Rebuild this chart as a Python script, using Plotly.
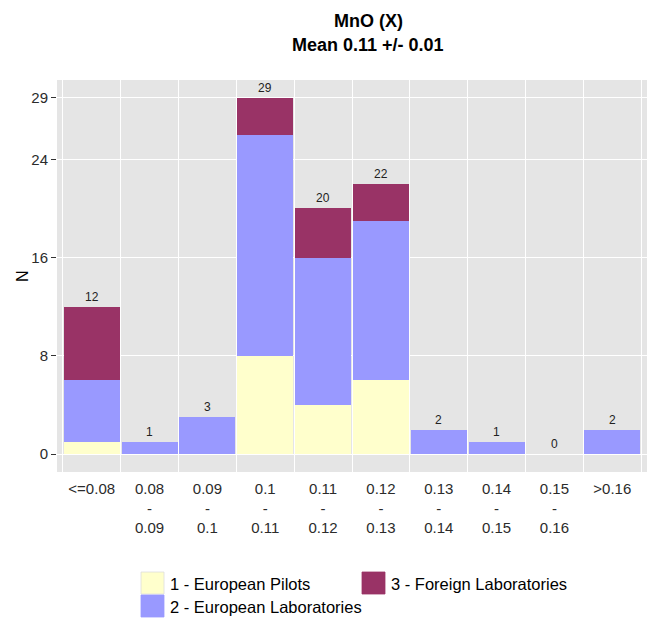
import plotly.graph_objects as go

categories = ["<=0.08", "0.08<br>-<br>0.09", "0.09<br>-<br>0.1", "0.1<br>-<br>0.11",
              "0.11<br>-<br>0.12", "0.12<br>-<br>0.13", "0.13<br>-<br>0.14",
              "0.14<br>-<br>0.15", "0.15<br>-<br>0.16", ">0.16"]
pilots = [1, 0, 0, 8, 4, 6, 0, 0, 0, 0]
labs = [5, 1, 3, 18, 12, 13, 2, 1, 0, 2]
foreign = [6, 0, 0, 3, 4, 3, 0, 0, 0, 0]
series_names = ["1 - European Pilots", "2 - European Laboratories", "3 - Foreign Laboratories"]
series_colors = ["#FFFFCC", "#9999FF", "#993366"]
y_ticks = [0, 8, 16, 24, 29]
title_lines = ["MnO (X)", "Mean 0.11 +/- 0.01"]

# page body has an 8px margin; lay out in window pixels and convert
OFF = 8
W, H = 655 - OFF, 621 - OFF
PANEL_L, PANEL_R, PANEL_T, PANEL_B = 57, 647, 80, 472   # window pixels
L, T = PANEL_L - OFF, PANEL_T - OFF
R = W - (PANEL_R - OFF)
B = H - (PANEL_B - OFF)
PW, PH = PANEL_R - PANEL_L, PANEL_B - PANEL_T


def px(xwin):
    return (xwin - PANEL_L) / PW


def py(ywin):
    return (PANEL_B - ywin) / PH


xs = list(range(len(categories)))
totals = [a + b + c for a, b, c in zip(pilots, labs, foreign)]

fig = go.Figure()
for name, vals, col in zip(series_names, [pilots, labs, foreign], series_colors):
    fig.add_trace(go.Bar(x=xs, y=vals, name=name, marker=dict(color=col, line=dict(width=0)),
                         showlegend=False))

fig.update_layout(
    width=W, height=H,
    margin=dict(l=L, r=R, t=T, b=B),
    paper_bgcolor="white",
    plot_bgcolor="#E5E5E5",
    barmode="stack",
    bargap=0.03,
    font=dict(family="Liberation Sans, Arial", color="#333333"),
)

fig.update_xaxes(
    range=[-0.6, 9.6],
    tickmode="array", tickvals=xs, ticktext=categories,
    showgrid=False, zeroline=False,
    ticks="outside", ticklen=3, tickcolor="rgba(0,0,0,0)",
    tickfont=dict(size=15, color="#2b2b2b"),
    minor=dict(tickmode="array", tickvals=[i - 0.5 for i in range(len(categories) + 1)],
               showgrid=True, gridcolor="white", gridwidth=1.3, ticks=""),
)

fig.update_yaxes(
    range=[-1.45, 30.45],
    tickmode="array", tickvals=y_ticks, ticktext=[str(v) for v in y_ticks],
    showgrid=True, gridcolor="white", gridwidth=1.3, zeroline=False,
    ticks="outside", ticklen=5, tickcolor="#333333", tickwidth=1,
    tickfont=dict(size=15, color="#2b2b2b"),
)

annotations = [
    dict(text="<b>%s</b>" % title_lines[0], x=px(368), y=py(21), xref="paper", yref="paper",
         showarrow=False, xanchor="center", yanchor="middle",
         font=dict(size=18, color="black")),
    dict(text="<b>%s</b>" % title_lines[1], x=px(368), y=py(45), xref="paper", yref="paper",
         showarrow=False, xanchor="center", yanchor="middle",
         font=dict(size=18, color="black")),
    dict(text="N", x=px(22), y=0.5, xref="paper", yref="paper", showarrow=False,
         textangle=-90, xanchor="center", yanchor="middle", font=dict(size=16, color="black")),
]

# total labels above each stacked bar
for xi, tot in zip(xs, totals):
    annotations.append(dict(text=str(tot), x=xi, y=tot, xref="x", yref="y", showarrow=False,
                            xanchor="center", yanchor="bottom", yshift=1,
                            font=dict(size=12, color="#222222")))

# manual legend (two columns: 1 & 2 in first column, 3 in second)
leg = [
    (series_names[0], series_colors[0], 141, 572),
    (series_names[1], series_colors[1], 141, 595),
    (series_names[2], series_colors[2], 362, 572),
]
shapes = []
for name, col, x0, y0 in leg:
    shapes.append(dict(type="rect", xref="paper", yref="paper",
                       x0=px(x0), x1=px(x0 + 23), y0=py(y0), y1=py(y0 + 22),
                       fillcolor=col, line=dict(width=0.8, color="#DDDDDD" if col == "#FFFFCC" else col)))
    annotations.append(dict(text=name, x=px(x0 + 27), y=py(y0 + 12), xref="paper", yref="paper",
                            showarrow=False, xanchor="left", yanchor="middle",
                            font=dict(size=16.5, color="black")))

fig.update_layout(annotations=annotations, shapes=shapes)

fig.write_html("out.html")
